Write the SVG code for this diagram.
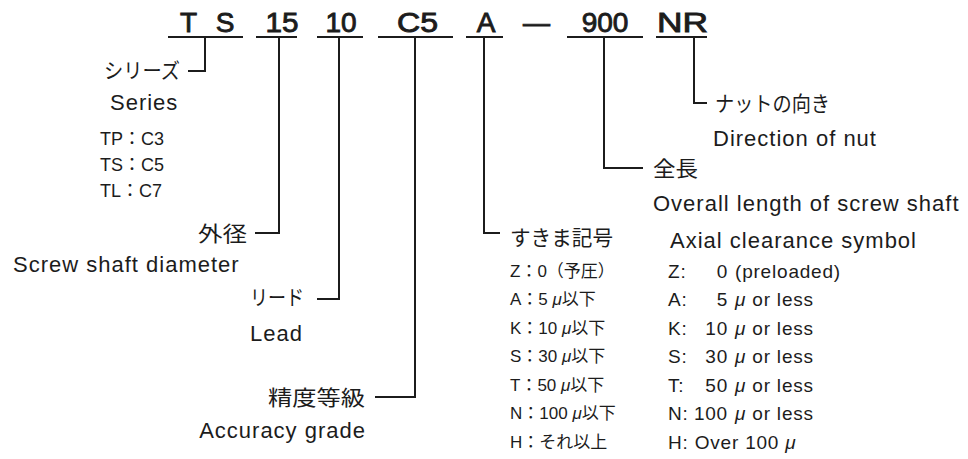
<svg xmlns="http://www.w3.org/2000/svg" width="968" height="459" viewBox="0 0 968 459">
<style>
.code{font-family:"Liberation Sans",Arial,sans-serif;font-size:28px;fill:#1c1c1c;stroke:#1c1c1c;stroke-width:0.9;text-anchor:middle}
.jp{font-family:"Noto Sans CJK JP",sans-serif;font-size:21px;fill:#1c1c1c}
.en{font-family:"Liberation Sans",Arial,sans-serif;font-size:22px;letter-spacing:1px;fill:#1c1c1c}
.sm{font-family:"Liberation Sans","Noto Sans CJK JP",sans-serif;font-size:18px;fill:#1c1c1c}
.jl{font-family:"Liberation Sans","Noto Sans CJK JP",sans-serif;font-size:17px;fill:#1c1c1c}
.el{font-family:"Liberation Sans",Arial,sans-serif;font-size:19px;letter-spacing:0.8px;fill:#1c1c1c}
.end{text-anchor:end}
.mu{font-style:italic}
.ln{stroke:#1c1c1c;stroke-width:2;fill:none}
</style>
<rect width="968" height="459" fill="#ffffff"/>
<g id="code">
<text class="code" x="188.5" y="32">T</text>
<text class="code" x="225" y="32">S</text>
<text class="code" x="282" y="32" textLength="33" lengthAdjust="spacingAndGlyphs">15</text>
<text class="code" x="341" y="32">10</text>
<text class="code" x="417.5" y="32" textLength="41" lengthAdjust="spacingAndGlyphs">C5</text>
<text class="code" x="486" y="32">A</text>
<text class="code" x="536.5" y="32" textLength="27" lengthAdjust="spacingAndGlyphs">—</text>
<text class="code" x="605" y="32">900</text>
<text class="code" x="682.5" y="32" textLength="51" lengthAdjust="spacingAndGlyphs">NR</text>
</g>
<g id="connectors">
<path class="ln" d="M168,37H243M256,37H297M317,37H363M378,37H453M466,37H503M567,37H643M656,37H707"/>
<path class="ln" d="M205,37V71H188"/>
<path class="ln" d="M279,37V233H255"/>
<path class="ln" d="M339,37V299H317"/>
<path class="ln" d="M415,37V397H375"/>
<path class="ln" d="M484,37V233H500"/>
<path class="ln" d="M604,37V168H643"/>
<path class="ln" d="M694,37V103H707"/>
</g>
<g id="series">
<text class="jp end" x="180" y="78" textLength="76" lengthAdjust="spacingAndGlyphs">シリーズ</text>
<text class="en" x="110" y="110">Series</text>
<text class="sm" x="100" y="145">TP：C3</text>
<text class="sm" x="100" y="171">TS：C5</text>
<text class="sm" x="100" y="197">TL：C7</text>
</g>
<g id="diameter">
<text class="jp end" x="247" y="241" textLength="49" lengthAdjust="spacingAndGlyphs">外径</text>
<text class="en" x="13" y="272">Screw shaft diameter</text>
</g>
<g id="lead">
<text class="jp end" x="304" y="305" textLength="54" lengthAdjust="spacingAndGlyphs">リード</text>
<text class="en" x="250" y="341">Lead</text>
</g>
<g id="accuracy">
<text class="jp end" x="365" y="405" textLength="97" lengthAdjust="spacingAndGlyphs">精度等級</text>
<text class="en end" x="366" y="438">Accuracy grade</text>
</g>
<g id="clearance">
<text class="jp" x="510" y="245" textLength="103" lengthAdjust="spacingAndGlyphs">すきま記号</text>
<text class="en" x="670" y="248">Axial clearance symbol</text>
<text class="jl" x="510" y="277">Z：0（予圧）</text>
<text class="jl" x="510" y="305">A：5 <tspan class="mu">μ</tspan>以下</text>
<text class="jl" x="510" y="334">K：10 <tspan class="mu">μ</tspan>以下</text>
<text class="jl" x="510" y="362">S：30 <tspan class="mu">μ</tspan>以下</text>
<text class="jl" x="510" y="391">T：50 <tspan class="mu">μ</tspan>以下</text>
<text class="jl" x="510" y="419">N：100 <tspan class="mu">μ</tspan>以下</text>
<text class="jl" x="510" y="448">H：それ以上</text>
<text class="el" x="668" y="278">Z:</text><text class="el end" x="728" y="278">0</text><text class="el" x="735" y="278">(preloaded)</text>
<text class="el" x="668" y="306">A:</text><text class="el end" x="728" y="306">5</text><text class="el" x="735" y="306"><tspan class="mu">μ</tspan> or less</text>
<text class="el" x="668" y="335">K:</text><text class="el end" x="728" y="335">10</text><text class="el" x="735" y="335"><tspan class="mu">μ</tspan> or less</text>
<text class="el" x="668" y="363">S:</text><text class="el end" x="728" y="363">30</text><text class="el" x="735" y="363"><tspan class="mu">μ</tspan> or less</text>
<text class="el" x="668" y="392">T:</text><text class="el end" x="728" y="392">50</text><text class="el" x="735" y="392"><tspan class="mu">μ</tspan> or less</text>
<text class="el" x="668" y="420">N:</text><text class="el end" x="728" y="420">100</text><text class="el" x="735" y="420"><tspan class="mu">μ</tspan> or less</text>
<text class="el" x="668" y="449">H: Over 100 <tspan class="mu">μ</tspan></text>
</g>
<g id="length">
<text class="jp" x="653" y="176" textLength="45" lengthAdjust="spacingAndGlyphs">全長</text>
<text class="en" x="653" y="211">Overall length of screw shaft</text>
</g>
<g id="nut">
<text class="jp" x="715" y="111" textLength="115" lengthAdjust="spacingAndGlyphs">ナットの向き</text>
<text class="en" x="713" y="146">Direction of nut</text>
</g>
</svg>
